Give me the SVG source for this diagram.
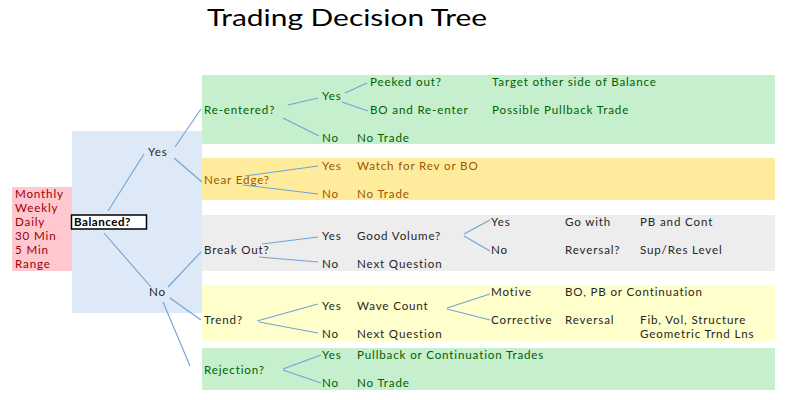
<svg xmlns="http://www.w3.org/2000/svg" width="800" height="400" viewBox="0 0 800 400">
<style>
text{font-family:Lato,"Open Sans","Liberation Sans",sans-serif;font-size:11.6px;letter-spacing:0.85px}
.g{fill:#006100}.o{fill:#9c5700}.k{fill:#262626}.r{fill:#9c0006}
.c{stroke:#6fa3d8;stroke-width:1.1;fill:none}
</style>
<rect width="800" height="400" fill="#ffffff"/>
<text x="207" y="26" textLength="280" lengthAdjust="spacingAndGlyphs" style="font-size:24px;letter-spacing:0" fill="#000">Trading Decision Tree</text>

<g id="timeframes">
<rect x="12" y="187" width="60" height="84" fill="#ffc7ce"/>
<text class="r" x="15" y="198">Monthly</text>
<text class="r" x="15" y="212">Weekly</text>
<text class="r" x="15" y="226">Daily</text>
<text class="r" x="15" y="240">30 Min</text>
<text class="r" x="15" y="254">5 Min</text>
<text class="r" x="15" y="268">Range</text>
</g>
<g id="balancedPanel">
<rect x="72" y="131" width="130" height="182" fill="#dde9f6"/>
</g>
<g id="balanced">
<rect x="71.5" y="215" width="75" height="14" fill="#ffffff" stroke="#000" stroke-width="1.5"/>
<text x="74" y="226" font-weight="bold" fill="#000" style="letter-spacing:0.5px">Balanced?</text>
</g>
<g id="balYes"><text class="k" x="148" y="156">Yes</text></g>
<g id="balNo"><text class="k" x="149" y="296">No</text></g>

<g id="reentered">
<rect x="202" y="75" width="573" height="69" fill="#c6efce"/>
<text class="g" x="204" y="114">Re-entered?</text>
<text class="g" x="322" y="100">Yes</text>
<text class="g" x="370" y="86">Peeked out?</text>
<text class="g" x="492" y="86">Target other side of Balance</text>
<text class="g" x="370" y="114">BO and Re-enter</text>
<text class="g" x="492" y="114">Possible Pullback Trade</text>
<text class="g" x="322" y="142">No</text>
<text class="g" x="357" y="142">No Trade</text>
</g>
<g id="nearEdge">
<rect x="202" y="158" width="573" height="42" fill="#ffeb9c"/>
<text class="o" x="204" y="184">Near Edge?</text>
<text class="o" x="322" y="170">Yes</text>
<text class="o" x="357" y="170">Watch for Rev or BO</text>
<text class="o" x="322" y="198">No</text>
<text class="o" x="357" y="198">No Trade</text>
</g>
<g id="breakOut">
<rect x="202" y="215" width="573" height="56" fill="#ededed"/>
<text class="k" x="204" y="254">Break Out?</text>
<text class="k" x="322" y="240">Yes</text>
<text class="k" x="357" y="240">Good Volume?</text>
<text class="k" x="491" y="226">Yes</text>
<text class="k" x="565" y="226">Go with</text>
<text class="k" x="640" y="226">PB and Cont</text>
<text class="k" x="491" y="254">No</text>
<text class="k" x="565" y="254">Reversal?</text>
<text class="k" x="640" y="254">Sup/Res Level</text>
<text class="k" x="322" y="268">No</text>
<text class="k" x="357" y="268">Next Question</text>
</g>
<g id="trend">
<rect x="202" y="285" width="573" height="56" fill="#ffffcc"/>
<text class="k" x="204" y="324">Trend?</text>
<text class="k" x="322" y="310">Yes</text>
<text class="k" x="357" y="310">Wave Count</text>
<text class="k" x="491" y="296">Motive</text>
<text class="k" x="565" y="296">BO, PB or Continuation</text>
<text class="k" x="491" y="324">Corrective</text>
<text class="k" x="565" y="324">Reversal</text>
<text class="k" x="640" y="324">Fib, Vol, Structure</text>
<text class="k" x="640" y="338">Geometric Trnd Lns</text>
<text class="k" x="322" y="338">No</text>
<text class="k" x="357" y="338">Next Question</text>
</g>
<g id="rejection">
<rect x="202" y="348" width="573" height="42" fill="#c6efce"/>
<text class="g" x="204" y="374">Rejection?</text>
<text class="g" x="322" y="359">Yes</text>
<text class="g" x="357" y="359">Pullback or Continuation Trades</text>
<text class="g" x="322" y="387">No</text>
<text class="g" x="357" y="387">No Trade</text>
</g>

<g id="connectors" class="c">
<line x1="108" y1="211" x2="144" y2="154"/>
<line x1="104" y1="233" x2="151" y2="287"/>
<line x1="175" y1="147" x2="201" y2="109"/>
<line x1="174" y1="158" x2="202" y2="182"/>
<line x1="168" y1="287" x2="201" y2="252"/>
<line x1="170" y1="298" x2="201" y2="320"/>
<line x1="163" y1="302" x2="190" y2="366"/>
<line x1="288" y1="105" x2="318" y2="98"/>
<line x1="283" y1="118" x2="319" y2="136"/>
<line x1="345" y1="93" x2="367" y2="83"/>
<line x1="342" y1="102" x2="368" y2="111"/>
<line x1="245" y1="176" x2="318" y2="166"/>
<line x1="243" y1="185" x2="318" y2="194"/>
<line x1="262" y1="244" x2="318" y2="237"/>
<line x1="259" y1="257" x2="318" y2="262"/>
<line x1="464" y1="234" x2="490" y2="220"/>
<line x1="464" y1="236" x2="490" y2="251"/>
<line x1="257" y1="321" x2="318" y2="304"/>
<line x1="259" y1="322" x2="318" y2="333"/>
<line x1="447" y1="308" x2="490" y2="294"/>
<line x1="447" y1="309" x2="490" y2="320"/>
<line x1="283" y1="369" x2="321" y2="355"/>
<line x1="283" y1="370" x2="321" y2="383"/>
</g>
</svg>
